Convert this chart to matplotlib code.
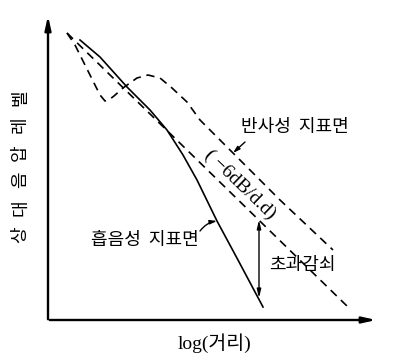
import numpy as np
import matplotlib.pyplot as plt

plt.rcParams['font.family'] = ['Noto Sans CJK KR', 'DejaVu Sans']

# schematic values (arbitrary units: log distance vs. relative level)
straight_x = [19, 300]
straight_y = [287, 13]

reflect_x = [19, 27, 37, 47, 52, 57, 62, 66, 75, 89, 100, 112, 124, 139, 152, 182, 232, 285]
reflect_y = [287, 275, 255, 235, 225, 219, 221, 224, 232, 242, 245, 242, 232, 218, 200, 170, 120, 70]

absorb_x = [32, 52, 79, 102, 119, 135, 149, 169, 190, 215]
absorb_y = [280, 263, 233, 210, 190, 165, 140, 99, 60, 13]

excess_x = 211
excess_top = 100
excess_bottom = 22

ylabel_chars = ["상", "대", "음", "압", "레", "벨"]

fig = plt.figure(figsize=(4, 3.62), dpi=100)
ax = fig.add_axes([48 / 400, 42 / 362, 330 / 400, 305 / 362])
ax.set_xlim(0, 330)
ax.set_ylim(0, 305)
ax.axis("off")

# axes with arrows
ax.annotate("", xy=(0, 307), xytext=(0, -2),
            arrowprops=dict(arrowstyle="-|>,head_length=0.8,head_width=0.18",
                            color="black", lw=1.7), annotation_clip=False)
ax.annotate("", xy=(331, 0), xytext=(-1, 0),
            arrowprops=dict(arrowstyle="-|>,head_length=0.8,head_width=0.18",
                            color="black", lw=1.7), annotation_clip=False)

dash = (0, (5, 3.5))
ax.plot(straight_x, straight_y, color="black", lw=1.2, linestyle=dash)
ax.plot(reflect_x, reflect_y, color="black", lw=1.2, linestyle=dash)
ax.plot(absorb_x, absorb_y, color="black", lw=1.2)

# excess attenuation
ax.annotate("", xy=(excess_x, excess_bottom), xytext=(excess_x, excess_top),
            arrowprops=dict(arrowstyle="<|-|>,head_length=0.5,head_width=0.12",
                            color="black", lw=1.0, shrinkA=0, shrinkB=0))
ax.text(254, 55, "초과감쇠", fontsize=13, ha="center", va="center")

ax.text(247, 193, "반사성  지표면", fontsize=13, ha="center", va="center")
ax.annotate("", xy=(185, 167), xytext=(197, 178),
            arrowprops=dict(arrowstyle="-|>,head_length=0.4,head_width=0.12",
                            color="black", lw=1.0, shrinkA=0, shrinkB=0))

ax.text(97, 80, "흡음성  지표면", fontsize=13, ha="center", va="center")
ax.annotate("", xy=(169, 99), xytext=(152, 89),
            arrowprops=dict(arrowstyle="-|>,head_length=0.4,head_width=0.12",
                            color="black", lw=1.0, shrinkA=0, shrinkB=0,
                            connectionstyle="arc3,rad=-0.2"))

ax.text(192, 135, "( −6dB/d.d)", fontsize=14, ha="center", va="center",
        rotation=-44, rotation_mode="anchor",
        family=["Liberation Serif", "DejaVu Sans"])

ax.text(167, -23, "log(거리)", fontsize=14, ha="center", va="center",
        family=["Liberation Serif", "Noto Sans CJK KR"], clip_on=False)

# y label, letter-spaced like the original
for i, ch in enumerate(ylabel_chars):
    ax.text(-28, 85 + i * 27.5, ch, fontsize=13, ha="center", va="center",
            rotation=90, clip_on=False)

fig.savefig("out.png", dpi=100)
